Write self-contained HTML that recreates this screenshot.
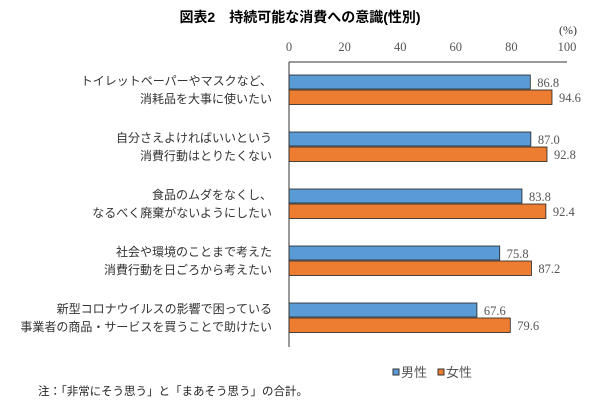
<!DOCTYPE html>
<html><head><meta charset="utf-8">
<style>
body{margin:0;background:#fff;width:600px;height:413px;overflow:hidden;}
</style></head><body>
<svg width="600" height="413" font-family="'Liberation Serif','Noto Serif CJK SC',serif">
<text x="300" y="22" text-anchor="middle" font-size="14" font-weight="bold" font-family="'Liberation Sans','Noto Sans CJK JP',sans-serif">図表2　持続可能な消費への意識(性別)</text>
<text x="568" y="34" text-anchor="middle" font-size="12" fill="#333">(%)</text>
<g id="g"></g>
<g>
<rect x="393" y="369" width="6" height="6" fill="#5b9bd5" stroke="#333" stroke-width="1"/>
<text x="401" y="377" font-size="13" fill="#555" font-family="'Liberation Sans','Noto Sans CJK JP',sans-serif">男性</text>
<rect x="438" y="369" width="6" height="6" fill="#ed7d31" stroke="#333" stroke-width="1"/>
<text x="446" y="377" font-size="13" fill="#555" font-family="'Liberation Sans','Noto Sans CJK JP',sans-serif">女性</text>
</g>
<text x="38" y="395" font-size="11.5" fill="#222" font-family="'Liberation Sans','Noto Sans CJK JP',sans-serif">注：「非常にそう思う」と「まあそう思う」の合計。</text>
</svg>
<script>
const categories=[["トイレットペーパーやマスクなど、","消耗品を大事に使いたい"],["自分さえよければいいという","消費行動はとりたくない"],["食品のムダをなくし、","なるべく廃棄がないようにしたい"],["社会や環境のことまで考えた","消費行動を日ごろから考えたい"],["新型コロナウイルスの影響で困っている","事業者の商品・サービスを買うことで助けたい"]];
const male=[86.8,87.0,83.8,75.8,67.6];
const female=[94.6,92.8,92.4,87.2,79.6];
const ticks=[0,20,40,60,80,100];
(function(){
const NS="http://www.w3.org/2000/svg";
const g=document.getElementById('g');
const x0=289,x1=567,plotTop=62,plotBottom=347;
const xs=v=>x0+(x1-x0)*v/100;
const band=(plotBottom-plotTop)/categories.length;
function el(t,a,txt){const e=document.createElementNS(NS,t);for(const k in a)e.setAttribute(k,a[k]);if(txt!=null)e.textContent=txt;g.appendChild(e);return e;}
ticks.forEach((t)=>{const e=el('text',{x:xs(t),y:51,'text-anchor':'middle','font-size':12.5,fill:'#555'},String(t));

});
categories.forEach((c,i)=>{
 const y=plotTop+i*band+13;
 const b1=el('rect',{x:x0,y:y,width:xs(male[i])-x0,height:14,fill:'#5b9bd5',stroke:'#222','stroke-width':0.8});
 
 
 const b2=el('rect',{x:x0,y:y+15,width:xs(female[i])-x0,height:14.5,fill:'#ed7d31',stroke:'#222','stroke-width':0.8});
 
 
 const l1=el('text',{x:xs(male[i])+7,y:y+12,'font-size':12.5,fill:'#555'},male[i].toFixed(1));
 
 
 const l2=el('text',{x:xs(female[i])+7,y:y+27,'font-size':12.5,fill:'#555'},female[i].toFixed(1));
 
 
 c.forEach((s,j)=>{const t=el('text',{x:272,y:y+10+j*18,'text-anchor':'end','font-size':12,fill:'#333','font-family':"'Liberation Sans','Noto Sans CJK JP',sans-serif"},s);
 
 });
});
const ax=el('line',{x1:x0,y1:plotTop,x2:x0,y2:plotBottom,stroke:'#333','stroke-width':1});


const tx=el('line',{x1:x0,y1:plotTop,x2:x1,y2:plotTop,stroke:'#333','stroke-width':1});


})();
</script>
</body></html>
